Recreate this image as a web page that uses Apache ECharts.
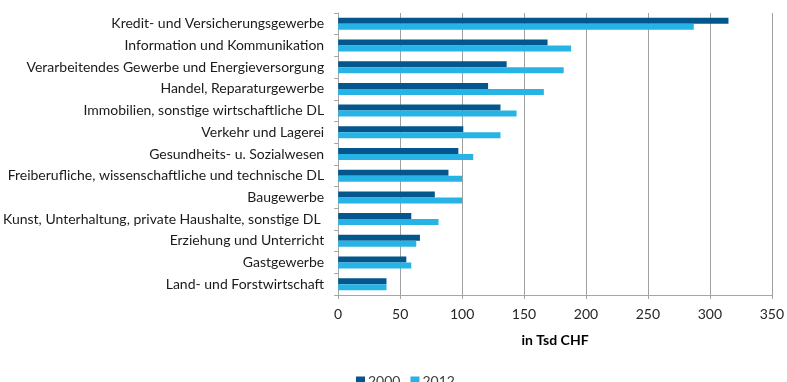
<!DOCTYPE html>
<html>
<head>
<meta charset="utf-8">
<script src="https://cdn.jsdelivr.net/npm/echarts@6/dist/echarts.min.js"></script>
<style>
  html, body { margin: 0; padding: 0; background: #fff; }
  #chart { width: 787px; height: 382px; }
</style>
</head>
<body>
<div id="chart"></div>
<script>
// Wertschöpfung pro Beschäftigten nach Branche, in Tsd CHF
const categories = [
  'Kredit- und Versicherungsgewerbe',
  'Information und Kommunikation',
  'Verarbeitendes Gewerbe und Energieversorgung',
  'Handel, Reparaturgewerbe',
  'Immobilien, sonstige wirtschaftliche DL',
  'Verkehr und Lagerei',
  'Gesundheits- u. Sozialwesen',
  'Freiberufliche, wissenschaftliche und technische DL',
  'Baugewerbe',
  'Kunst, Unterhaltung, private Haushalte, sonstige DL ',
  'Erziehung und Unterricht',
  'Gastgewerbe',
  'Land- und Forstwirtschaft'
];
const values2000 = [315, 169, 136, 121, 131, 101, 97, 89, 78, 59, 66, 55, 39];
const values2012 = [287, 188, 182, 166, 144, 131, 109, 100, 100, 81, 63, 59, 39];
const seriesNames = ['2000', '2012'];
const xTicks = { min: 0, max: 350, interval: 50 };

const FONT = 'Lato, "Open Sans", sans-serif';
const chart = echarts.init(document.getElementById('chart'));
chart.setOption({
  animation: false,
  backgroundColor: '#ffffff',
  color: ['#04578c', '#27b3e5'],
  grid: { left: 338, right: 11, top: 13, bottom: 87, containLabel: false },
  legend: {
    data: seriesNames,
    left: 351, top: 369,
    itemWidth: 9, itemHeight: 9, itemGap: 10,
    icon: 'rect',
    textStyle: { fontFamily: FONT, fontSize: 14, color: '#404040', padding: [0, 0, 0, -2] }
  },
  xAxis: {
    type: 'value',
    min: xTicks.min, max: xTicks.max, interval: xTicks.interval,
    name: 'in Tsd CHF',
    nameLocation: 'middle',
    nameGap: 38,
    nameTextStyle: { fontFamily: FONT, fontSize: 14, fontWeight: 'bold', color: '#000' },
    axisLine: { show: true, lineStyle: { color: '#a6a6a6' } },
    axisTick: { show: true, length: 4, inside: false, lineStyle: { color: '#a6a6a6' } },
    axisLabel: { fontFamily: FONT, fontSize: 14, color: '#262626', margin: 12 },
    splitLine: { show: true, lineStyle: { color: '#a0a0a0', width: 1 } }
  },
  yAxis: {
    type: 'category',
    data: categories,
    inverse: true,
    axisLine: { show: true, lineStyle: { color: '#a6a6a6' } },
    axisTick: { show: true, length: 4, lineStyle: { color: '#a6a6a6' } },
    axisLabel: { fontFamily: FONT, fontSize: 14, color: '#1a1a1a', margin: 14 }
  },
  series: [
    {
      name: seriesNames[0], type: 'bar', data: values2000,
      barWidth: 6, barGap: '0%'
    },
    {
      name: seriesNames[1], type: 'bar', data: values2012,
      barWidth: 6, barGap: '0%'
    }
  ]
});
</script>
</body>
</html>
